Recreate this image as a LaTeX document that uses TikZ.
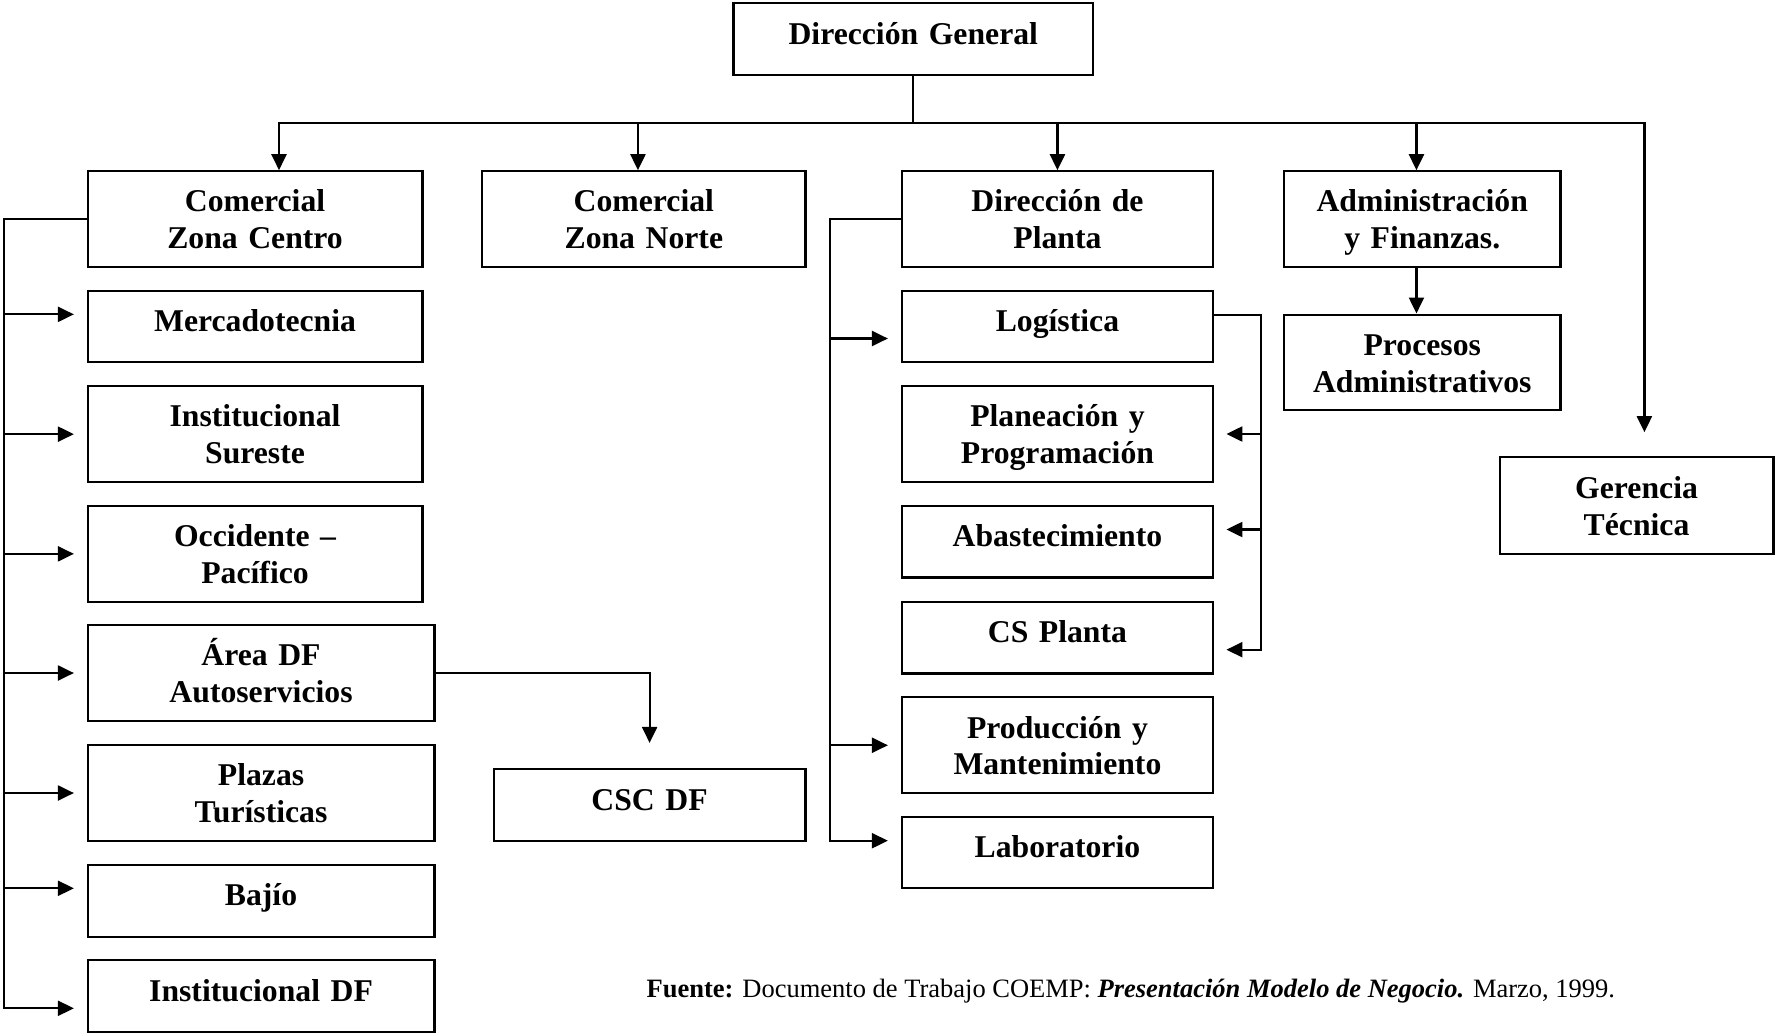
\documentclass[tikz,border=0pt]{standalone}
\usepackage{fontspec}
\setmainfont{Liberation Serif}
\usetikzlibrary{arrows.meta}

\begin{document}
\begin{tikzpicture}[x=1pt,y=1pt,
  >={Triangle[length=16pt,width=15pt]},
  conn/.style={line width=2.2pt},
  unit/.style={draw, line width=2.2pt, inner sep=0pt, text width=260pt, align=center,
    font=\fontsize{31.7}{36.8}\selectfont\bfseries, text height=22pt},
  oneline/.style={unit, text depth=11.5pt},
  twoline/.style={unit, text depth=36.4pt},
  note/.style={inner sep=0pt, anchor=base west, font=\fontsize{26.5}{30}\selectfont}
]
\useasboundingbox (0,0) rectangle (1775,-1034);

% top level
\node[oneline, minimum width=359.5pt, minimum height=72pt] (dg) at (913.25,-39.3) {Dirección General};

% second level
\node[twoline, minimum width=334.9pt, minimum height=95.4pt] (czc) at (255.05,-219) {Comercial\\Zona Centro};
\node[twoline, minimum width=323.3pt, minimum height=95.4pt] (czn) at (643.85,-219) {Comercial\\Zona Norte};
\node[twoline, minimum width=311.1pt, minimum height=95.4pt] (ddp) at (1057.45,-219) {Dirección de\\Planta};
\node[twoline, minimum width=276.5pt, minimum height=95.4pt] (ayf) at (1422.25,-219) {Administración\\y Finanzas.};
\node[twoline, minimum width=276.5pt, minimum height=95.7pt] (pa) at (1422.25,-362.45) {Procesos\\Administrativos};
\node[twoline, minimum width=273.9pt, minimum height=96.5pt] (ger) at (1636.55,-505.55) {Gerencia\\Técnica};

% commercial areas
\node[oneline, minimum width=334.9pt, minimum height=71.5pt] (mkt) at (255.05,-326.45) {Mercadotecnia};
\node[twoline, minimum width=334.9pt, minimum height=96.3pt] (ins) at (255.05,-434.15) {Institucional\\Sureste};
\node[twoline, minimum width=334.9pt, minimum height=96.3pt] (occ) at (255.05,-553.85) {Occidente –\\Pacífico};
\node[twoline, minimum width=346.9pt, minimum height=95.4pt] (area) at (261.05,-673) {Área DF\\Autoservicios};
\node[twoline, minimum width=346.9pt, minimum height=95.4pt] (plz) at (261.05,-793) {Plazas\\Turísticas};
\node[oneline, minimum width=346.9pt, minimum height=72pt] (baj) at (261.05,-900.7) {Bajío};
\node[oneline, minimum width=346.9pt, minimum height=71.4pt] (idf) at (261.05,-996) {Institucional DF};
\node[oneline, minimum width=311.6pt, minimum height=71.7pt] (csc) at (649.6,-804.85) {CSC DF};

% plant areas
\node[oneline, minimum width=311.1pt, minimum height=71.5pt] (log) at (1057.45,-326.45) {Logística};
\node[twoline, minimum width=311.1pt, minimum height=96pt] (pla) at (1057.45,-434) {Planeación y\\Programación};
\node[oneline, minimum width=311.1pt, minimum height=71.6pt] (aba) at (1057.45,-541.6) {Abastecimiento};
\node[oneline, minimum width=311.1pt, minimum height=71.5pt] (csp) at (1057.45,-637.65) {CS Planta};
\node[twoline, minimum width=311.1pt, minimum height=96.1pt] (pro) at (1057.45,-745.25) {Producción y\\Mantenimiento};
\node[oneline, minimum width=311.1pt, minimum height=71.1pt] (lab) at (1057.45,-852.55) {Laboratorio};

% source line
\node[note] (src) at (646.5,-997.7) {\textbf{Fuente:} Documento de Trabajo COEMP: \textbf{\textit{Presentación Modelo de Negocio.}} Marzo, 1999.};

% helper points
\coordinate (busL) at (279,-123.3);
\coordinate (busR) at (1644.4,-123.3);
\coordinate (gerTop) at ([yshift=24pt]ger.north);
\coordinate (lb) at (4,0);
\coordinate (rb) at (829.6,0);
\coordinate (lr) at (1261,0);

% main distribution bus
\draw[conn] (dg.south) -- (dg.south |- busL);
\draw[conn,<->] (busL |- czc.north) -- (busL) -- (busR) -- (busR |- gerTop);
\draw[conn,->] ([xshift=-5.9pt]czn.north |- busL) -- ([xshift=-5.9pt]czn.north);
\draw[conn,->] (ddp.north |- busL) -- (ddp.north);
\draw[conn,->] ([xshift=-5.8pt]ayf.north |- busL) -- ([xshift=-5.8pt]ayf.north);
\draw[conn,->] ([xshift=-5.8pt]ayf.south) -- ([xshift=-5.8pt]pa.north);

% commercial branch
\coordinate (mktIn) at ([xshift=-12.6pt,yshift=12.1pt]mkt.west);
\coordinate (insIn) at ([xshift=-12.6pt]ins.west);
\coordinate (occIn) at ([xshift=-12.6pt]occ.west);
\coordinate (areaIn) at ([xshift=-12.6pt]area.west);
\coordinate (plzIn) at ([xshift=-12.6pt]plz.west);
\coordinate (bajIn) at ([xshift=-12.6pt,yshift=12.4pt]baj.west);
\coordinate (idfIn) at ([xshift=-12.6pt,yshift=-12.3pt]idf.west);
\draw[conn,->] (czc.west) -- (czc.west -| lb) -- (lb |- idfIn) -- (idfIn);
\draw[conn,->] (lb |- mktIn) -- (mktIn);
\draw[conn,->] (lb |- insIn) -- (insIn);
\draw[conn,->] (lb |- occIn) -- (occIn);
\draw[conn,->] (lb |- areaIn) -- (areaIn);
\draw[conn,->] (lb |- plzIn) -- (plzIn);
\draw[conn,->] (lb |- bajIn) -- (bajIn);
\coordinate (cscTop) at ([yshift=25pt]csc.north);
\draw[conn,->] (area.east) -| (cscTop);

% plant branch
\coordinate (logIn) at ([xshift=-12.9pt,yshift=-12.05pt]log.west);
\coordinate (proIn) at ([xshift=-12.9pt]pro.west);
\coordinate (labIn) at ([xshift=-12.9pt,yshift=11.85pt]lab.west);
\draw[conn,->] (ddp.west) -- (ddp.west -| rb) -- (rb |- labIn) -- (labIn);
\draw[conn,->] (rb |- logIn) -- (logIn);
\draw[conn,->] (rb |- proIn) -- (proIn);

% logistics branch
\coordinate (logOut) at ([yshift=11.65pt]log.east);
\coordinate (plaIn) at ([xshift=12.3pt]pla.east);
\coordinate (abaIn) at ([xshift=12.3pt,yshift=12.1pt]aba.east);
\coordinate (cspIn) at ([xshift=12.3pt,yshift=-12.05pt]csp.east);
\draw[conn,->] (logOut) -- (logOut -| lr) -- (lr |- cspIn) -- (cspIn);
\draw[conn,->] (lr |- plaIn) -- (plaIn);
\draw[conn,->] (lr |- abaIn) -- (abaIn);
\end{tikzpicture}
\end{document}
